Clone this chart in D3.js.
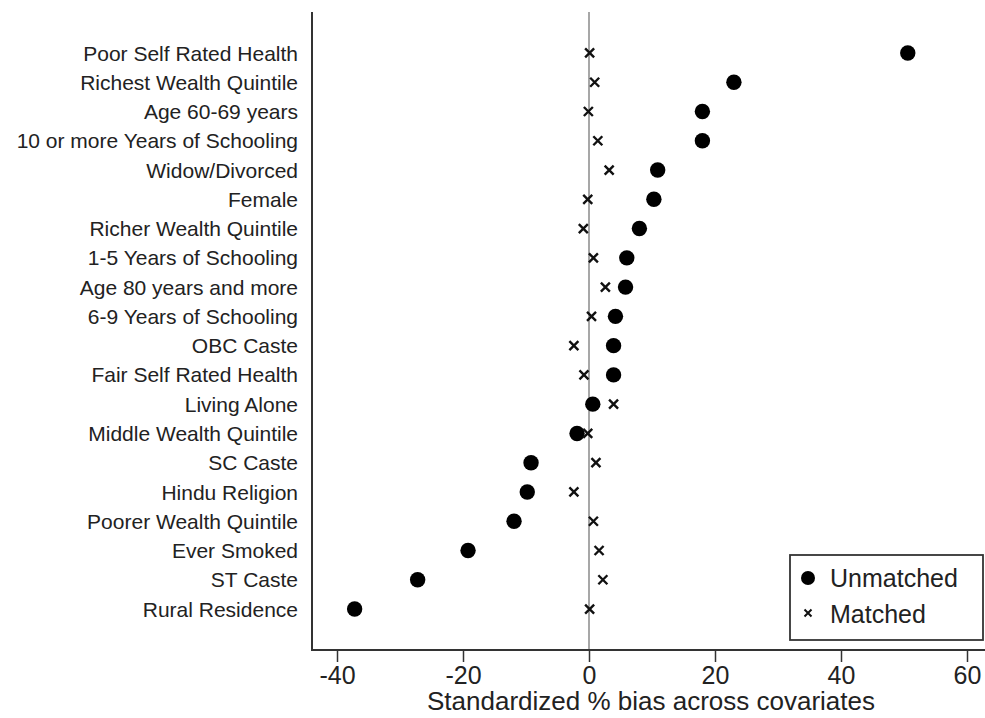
<!DOCTYPE html>
<html>
<head>
<meta charset="utf-8">
<script src="https://cdn.jsdelivr.net/npm/d3@7"></script>
<style>
  body { margin: 0; background: #fff; }
  text { font-family: "Liberation Sans", Arial, sans-serif; fill: #222; }
</style>
</head>
<body>
<svg id="chart" width="985" height="718"></svg>
<script>
// covariates, top to bottom
const covariates = [
  "Poor Self Rated Health", "Richest Wealth Quintile", "Age 60-69 years",
  "10 or more Years of Schooling", "Widow/Divorced", "Female",
  "Richer Wealth Quintile", "1-5 Years of Schooling", "Age 80 years and more",
  "6-9 Years of Schooling", "OBC Caste", "Fair Self Rated Health",
  "Living Alone", "Middle Wealth Quintile", "SC Caste", "Hindu Religion",
  "Poorer Wealth Quintile", "Ever Smoked", "ST Caste", "Rural Residence"
];
const unmatched = [50.6, 23.0, 18.0, 18.0, 10.9, 10.3, 8.0, 6.0, 5.8, 4.2,
  3.9, 3.9, 0.6, -1.9, -9.2, -9.8, -11.9, -19.2, -27.2, -37.2];
const matched = [0.1, 0.9, -0.1, 1.4, 3.2, -0.2, -0.9, 0.7, 2.6, 0.4,
  -2.4, -0.8, 3.9, -0.2, 1.1, -2.4, 0.7, 1.6, 2.2, 0.1];
const xTicks = [-40, -20, 0, 20, 40, 60];

const svg = d3.select("#chart");
const plotL = 312, plotR = 985, plotT = 12, plotB = 650;

const x = d3.scaleLinear().domain([-40, 60]).range([337, 967]);
const y = d3.scalePoint().domain(covariates).range([plotT, plotB]).padding(1.4);

// zero reference line
svg.append("line")
  .attr("x1", x(0)).attr("x2", x(0))
  .attr("y1", plotT).attr("y2", plotB)
  .attr("stroke", "#8a8a8a").attr("stroke-width", 1.5);

// axes
svg.append("line")
  .attr("x1", plotL).attr("x2", plotL).attr("y1", plotT).attr("y2", plotB + 1)
  .attr("stroke", "#333").attr("stroke-width", 2);

const xAxis = svg.append("g")
  .attr("transform", `translate(0,${plotB})`)
  .call(d3.axisBottom(x).tickValues(xTicks).tickSize(12).tickPadding(4)
    .tickFormat(d => String(d)));
xAxis.select(".domain").remove();
xAxis.selectAll(".tick line").attr("stroke", "#333").attr("stroke-width", 1.5);
xAxis.selectAll(".tick text")
  .style("font-size", "25px")
  .style("font-family", "'Liberation Sans', Arial, sans-serif")
  .attr("fill", "#222");

svg.append("line")
  .attr("x1", plotL - 1).attr("x2", plotR).attr("y1", plotB).attr("y2", plotB)
  .attr("stroke", "#333").attr("stroke-width", 2);

// y labels
svg.append("g").selectAll("text")
  .data(covariates)
  .join("text")
  .attr("x", plotL - 14)
  .attr("y", d => y(d))
  .attr("dy", "0.36em")
  .attr("text-anchor", "end")
  .style("font-size", "21px")
  .text(d => d);

// x label
svg.append("text")
  .attr("x", 651).attr("y", 710)
  .attr("text-anchor", "middle")
  .style("font-size", "26px")
  .text("Standardized % bias across covariates");

const cross = (g, cx, cy, s, w) => {
  g.append("path")
    .attr("d", `M${cx - s},${cy - s}L${cx + s},${cy + s}M${cx - s},${cy + s}L${cx + s},${cy - s}`)
    .attr("stroke", "#111").attr("stroke-width", w).attr("fill", "none");
};

// unmatched dots
svg.append("g").selectAll("circle")
  .data(covariates)
  .join("circle")
  .attr("cx", (d, i) => x(unmatched[i]))
  .attr("cy", d => y(d))
  .attr("r", 7.7)
  .attr("fill", "#000");

// matched crosses
const gm = svg.append("g");
covariates.forEach((d, i) => cross(gm, x(matched[i]), y(d), 4.5, 2.4));

// legend
const lg = svg.append("g");
lg.append("rect")
  .attr("x", 790).attr("y", 555).attr("width", 193).attr("height", 85)
  .attr("fill", "#fff").attr("stroke", "#333").attr("stroke-width", 1.8);
lg.append("circle").attr("cx", 808).attr("cy", 578).attr("r", 7).attr("fill", "#000");
cross(lg, 808, 613, 3.5, 2);
lg.append("text").attr("x", 830).attr("y", 578).attr("dy", "0.36em")
  .style("font-size", "25px").text("Unmatched");
lg.append("text").attr("x", 830).attr("y", 614).attr("dy", "0.36em")
  .style("font-size", "25px").text("Matched");
</script>
</body>
</html>
